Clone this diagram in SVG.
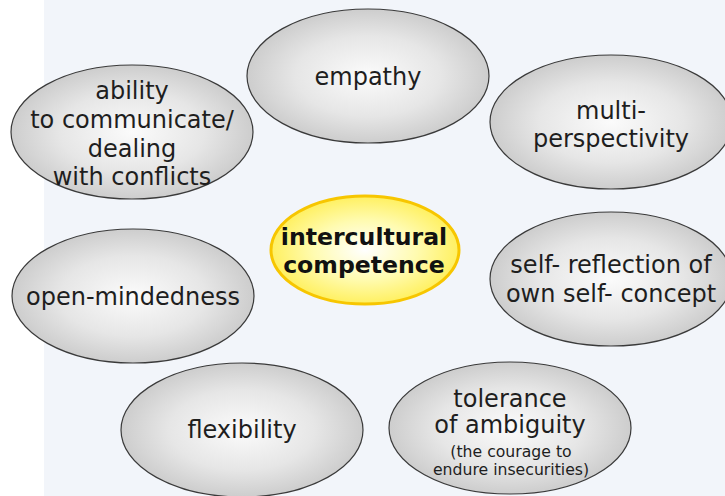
<svg xmlns="http://www.w3.org/2000/svg" width="725" height="496" viewBox="0 0 725 496">
<defs>
<radialGradient id="g" cx="0.5" cy="0.5" r="0.5">
<stop offset="0" stop-color="#fbfbfb"/>
<stop offset="0.6" stop-color="#e6e6e6"/>
<stop offset="1" stop-color="#cdcdcd"/>
</radialGradient>
<radialGradient id="y" cx="0.5" cy="0.5" r="0.5">
<stop offset="0" stop-color="#ffffff"/>
<stop offset="0.55" stop-color="#fffbb0"/>
<stop offset="1" stop-color="#fff060"/>
</radialGradient>
<style>
.n{fill:url(#g);stroke:#3a3a3a;stroke-width:1.2}
.c{fill:url(#y);stroke:#f7c600;stroke-width:3}
text{font-family:"DejaVu Sans",Verdana,sans-serif;fill:#1e1e1e;text-anchor:middle}
.t{font-size:24px}
.s{font-size:15.7px}
.b{font-size:23.6px;font-weight:bold;fill:#111}
</style>
</defs>
<rect x="0" y="0" width="725" height="496" fill="#ffffff"/>
<rect x="44" y="0" width="681" height="496" fill="#f2f5fa"/>
<g id="empathy">
<ellipse class="n" cx="368" cy="76" rx="121" ry="67"/>
<text class="t" x="368" y="85">empathy</text>
</g>
<g id="multiperspectivity">
<ellipse class="n" cx="611" cy="122" rx="121" ry="67"/>
<text class="t" x="611" y="119">multi-</text>
<text class="t" x="611" y="147">perspectivity</text>
</g>
<g id="ability">
<ellipse class="n" cx="132" cy="132" rx="121" ry="67"/>
<text class="t" x="132" y="99">ability</text>
<text class="t" x="132" y="128">to communicate/</text>
<text class="t" x="132" y="157">dealing</text>
<text class="t" x="132" y="185">with conflicts</text>
</g>
<g id="selfreflection">
<ellipse class="n" cx="611" cy="279" rx="121" ry="67"/>
<text class="t" x="611" y="273">self- reflection of</text>
<text class="t" x="611" y="302">own self- concept</text>
</g>
<g id="openmindedness">
<ellipse class="n" cx="133" cy="296" rx="121" ry="67"/>
<text class="t" x="133" y="305">open-mindedness</text>
</g>
<g id="flexibility">
<ellipse class="n" cx="242" cy="430" rx="121" ry="67"/>
<text class="t" x="242" y="438">flexibility</text>
</g>
<g id="tolerance">
<ellipse class="n" cx="510" cy="428" rx="121" ry="66"/>
<text class="t" x="510" y="407">tolerance</text>
<text class="t" x="510" y="433">of ambiguity</text>
<text class="s" x="511" y="457">(the courage to</text>
<text class="s" x="511" y="475">endure insecurities)</text>
</g>
<g id="center">
<ellipse class="c" cx="365" cy="250" rx="94" ry="54"/>
<text class="b" x="364" y="245">intercultural</text>
<text class="b" x="364" y="273">competence</text>
</g>
<g id="connectors"></g>
</svg>
